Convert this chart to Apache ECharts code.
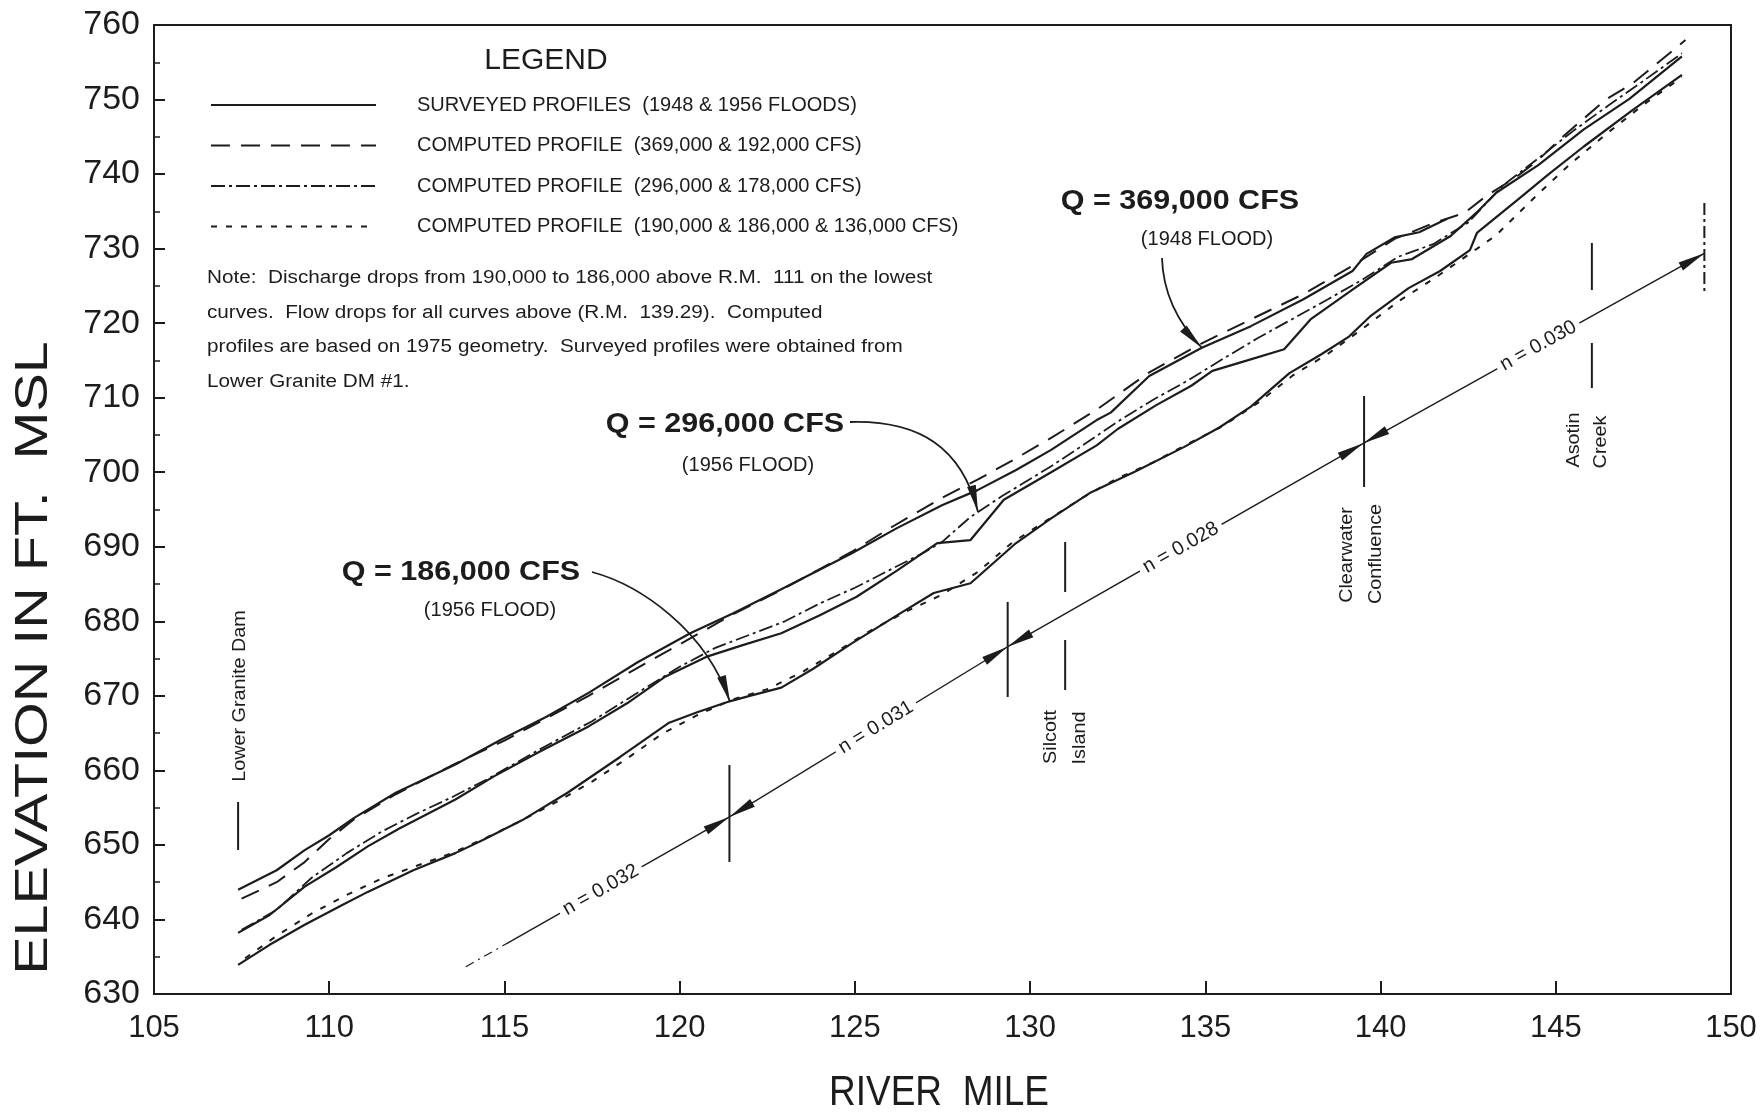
<!DOCTYPE html>
<html><head><meta charset="utf-8">
<script src="https://cdn.jsdelivr.net/npm/echarts@6/dist/echarts.min.js"></script>
<style>html,body{margin:0;padding:0;background:#fff}#c{width:1764px;height:1113px}</style>
</head><body><div id="c"></div>
<script>
// ---------------- DATA (river mile / elevation ft MSL) ----------------
const X_MIN = 105, X_MAX = 150, X_STEP = 5;
const Y_MIN = 630, Y_MAX = 760, Y_STEP = 10;

const SURVEYED_1948_MILE = [107.4,108.5,109.3,110.0,110.7,111.9,113.6,114.9,116.2,117.4,118.8,120.3,121.5,122.9,124.9,126.2,127.5,128.5,129.6,130.6,131.9,132.3,133.4,134.9,136.3,137.8,139.2,139.6,140.4,141.1,141.9];
const SURVEYED_1948_ELEV = [644.0,646.6,649.3,651.3,653.6,657.0,660.8,664.1,667.2,670.4,674.5,678.4,681.0,684.3,689.1,692.5,695.6,697.6,700.3,703.0,707.0,708.0,712.9,716.7,719.6,723.2,727.0,729.3,731.5,732.2,734.0];

const SURVEYED_1956_296K_MILE = [107.4,108.3,109.3,110.2,111.1,112.0,113.6,114.7,116.0,117.4,118.5,119.6,120.8,121.8,122.9,124.0,125.05,126.2,127.35,128.3,129.25,130.6,131.9,132.5,133.6,134.6,135.2,136.2,137.25,138.0,139.2,140.3,140.9,142.0,142.8,143.3,144.5,145.8,147.1,148.6];
const SURVEYED_1956_296K_ELEV = [638.2,640.6,644.4,647.0,649.8,652.2,656.1,659.2,662.5,665.9,669.0,672.6,675.3,676.8,678.4,680.8,683.3,686.8,690.5,690.9,696.3,700.0,703.6,705.8,709.0,711.6,713.6,715.0,716.5,720.5,724.5,728.1,728.6,731.7,735.1,737.5,741.2,746.0,750.1,755.8];

const SURVEYED_1956_186K_MILE = [107.4,108.3,109.3,110.4,111.1,112.4,113.6,114.4,115.5,116.8,118.3,119.7,120.5,121.45,122.0,122.9,123.8,124.9,126.2,127.25,128.3,129.6,130.6,131.7,133.0,134.4,135.4,136.3,137.4,138.3,139.1,139.7,140.8,141.7,142.55,142.75,143.9,144.8,145.8,147.2,148.6];
const SURVEYED_1956_186K_ELEV = [633.9,636.6,639.3,642.0,643.7,646.6,648.9,650.7,653.3,657.0,661.8,666.4,667.8,669.3,670.0,671.1,673.6,677.0,680.8,683.8,685.1,690.5,693.8,697.2,700.1,703.4,706.0,708.8,713.3,715.8,718.2,720.9,724.7,727.0,729.8,732.1,736.5,740.0,743.7,748.6,753.3];

const COMPUTED_369K_MILE = [107.5,108.5,109.3,110.0,110.7,111.9,113.6,115.0,116.2,117.4,119.0,120.3,121.5,122.9,124.9,126.0,127.5,128.5,129.5,130.6,131.9,133.4,134.9,136.3,137.8,139.2,140.4,141.5,142.4,143.0,143.9,144.5,145.2,146.4,147.2,148.5,148.7];
const COMPUTED_369K_ELEV = [642.8,645.0,647.7,650.8,653.4,656.8,660.9,664.0,667.0,670.0,674.3,677.7,680.9,684.2,689.3,692.5,696.6,699.0,701.6,704.6,708.4,713.4,717.3,720.5,723.9,727.7,731.3,733.4,734.8,737.0,739.7,741.9,745.0,749.9,752.2,757.2,758.0];

const COMPUTED_296K_MILE = [107.5,108.5,109.5,110.5,111.5,112.5,113.5,114.5,116.0,117.5,119.0,120.0,121.0,122.0,123.0,124.0,125.0,126.0,127.0,127.5,128.3,129.2,130.6,131.5,132.5,133.5,134.5,135.5,136.5,137.5,138.5,139.5,140.5,141.5,142.5,143.5,144.5,145.5,146.5,147.5,148.6];
const COMPUTED_296K_ELEV = [638.6,641.3,645.6,648.9,651.8,654.2,656.4,658.8,662.8,666.6,671.0,673.9,676.4,678.2,680.0,682.4,684.5,686.9,689.3,690.7,694.0,696.8,700.8,703.6,706.8,709.7,712.3,715.2,718.0,720.6,723.2,725.9,728.9,730.6,733.5,738.5,742.1,745.8,749.2,752.5,756.2];

const COMPUTED_190K_MILE = [107.6,108.5,109.5,110.5,111.5,112.5,113.5,114.5,115.5,116.5,117.5,118.5,119.5,120.5,121.5,122.5,123.5,124.5,125.5,126.5,127.5,128.5,129.5,130.5,131.5,132.5,133.5,134.5,135.5,136.5,137.5,138.5,139.5,140.5,141.5,142.3,143.3,144.4,145.4,146.5,147.5,148.6];
const COMPUTED_190K_ELEV = [634.8,637.8,640.8,643.3,645.5,647.2,648.9,651.0,653.3,655.8,658.5,661.6,664.9,667.4,669.5,670.9,673.2,676.0,678.9,681.4,683.6,686.6,690.6,693.6,696.6,699.2,701.3,703.8,706.2,709.3,713.0,715.9,719.3,722.9,725.9,728.5,731.8,736.9,741.3,745.6,749.3,753.0];

// roughness reach line (river mile, elevation) and its labels
const REACH_MILE = [113.9, 121.42, 129.36, 139.51, 149.24];
const REACH_ELEV = [633.66, 653.75, 676.59, 703.88, 729.37];
const REACH_LABELS = ['n = 0.032', 'n = 0.031', 'n = 0.028', 'n = 0.030'];
const REACH_LABEL_MILE = [117.75, 125.6, 134.3, 144.5];

const LEGEND_NAMES = [
  'SURVEYED PROFILES  (1948 & 1956 FLOODS)',
  'COMPUTED PROFILE  (369,000 & 192,000 CFS)',
  'COMPUTED PROFILE  (296,000 & 178,000 CFS)',
  'COMPUTED PROFILE  (190,000 & 186,000 & 136,000 CFS)'
];
const NOTE_LINES = [
  'Note:  Discharge drops from 190,000 to 186,000 above R.M.  111 on the lowest',
  'curves.  Flow drops for all curves above (R.M.  139.29).  Computed',
  'profiles are based on 1975 geometry.  Surveyed profiles were obtained from',
  'Lower Granite DM #1.'
];

// ---------------- CHART ----------------
const INK = '#1c1c1c';
const FONT = '"Liberation Sans", Arial, Helvetica, sans-serif';
const chart = echarts.init(document.getElementById('c'), null, {renderer: 'canvas'});
const pairs = (ms, es) => ms.map((m, i) => [m, es[i]]);
const mk = (name, ms, es, type, width) => ({
  name, type: 'line', data: pairs(ms, es), symbol: 'none', showSymbol: false, smooth: false,
  silent: true, z: 3, emphasis: {disabled: true},
  lineStyle: {color: INK, width, type}, itemStyle: {color: INK}
});
const DASHED = [19, 11], DASHDOT = [14, 4, 3, 4], DOTTED = [6, 9];

chart.setOption({
  animation: false,
  backgroundColor: '#ffffff',
  grid: {left: 154, right: 33, top: 25, bottom: 119, show: true, borderColor: INK, borderWidth: 2},
  xAxis: {
    type: 'value', min: X_MIN, max: X_MAX, interval: X_STEP,
    axisLine: {show: true, lineStyle: {color: INK, width: 2}},
    axisTick: {show: true, inside: true, length: 13, lineStyle: {color: INK, width: 2}},
    axisLabel: {fontSize: 31, color: INK, fontFamily: FONT, margin: 19, showMinLabel: true, showMaxLabel: true},
    splitLine: {show: false}
  },
  yAxis: {
    type: 'value', min: Y_MIN, max: Y_MAX, interval: Y_STEP,
    axisLine: {show: true, lineStyle: {color: INK, width: 2}},
    axisTick: {show: true, inside: true, length: 11, lineStyle: {color: INK, width: 2}},
    minorTick: {show: true, splitNumber: 2, length: 6, lineStyle: {color: INK, width: 1.5}},
    axisLabel: {fontSize: 34, color: INK, fontFamily: FONT, margin: 14},
    splitLine: {show: false}, minorSplitLine: {show: false}
  },
  legend: {
    orient: 'vertical', left: 205, top: 90, itemWidth: 165, itemHeight: 20, itemGap: 20.5,
    selectedMode: false, data: LEGEND_NAMES,
    itemStyle: {color: 'rgba(0,0,0,0)', borderWidth: 0, opacity: 0},
    textStyle: {fontSize: 20, color: INK, fontFamily: FONT, lineHeight: 20, padding: [0, 0, 0, 36]}
  },
  series: [
    mk(LEGEND_NAMES[0], SURVEYED_1948_MILE, SURVEYED_1948_ELEV, 'solid', 2.2),
    mk(LEGEND_NAMES[0], SURVEYED_1956_296K_MILE, SURVEYED_1956_296K_ELEV, 'solid', 2.2),
    mk(LEGEND_NAMES[0], SURVEYED_1956_186K_MILE, SURVEYED_1956_186K_ELEV, 'solid', 2.2),
    mk(LEGEND_NAMES[1], COMPUTED_369K_MILE, COMPUTED_369K_ELEV, DASHED, 2),
    mk(LEGEND_NAMES[2], COMPUTED_296K_MILE, COMPUTED_296K_ELEV, DASHDOT, 1.8),
    mk(LEGEND_NAMES[3], COMPUTED_190K_MILE, COMPUTED_190K_ELEV, DOTTED, 2)
  ]
});

// ---------------- ANNOTATIONS ----------------
const px = (m, e) => chart.convertToPixel({gridIndex: 0}, [m, e]);
const G = [];
function text(x, y, s, size, o) {
  o = o || {};
  G.push({
    type: 'text', x, y, z: 60, rotation: o.rot || 0, scaleX: o.sx || 1, scaleY: o.sy || 1,
    style: {
      text: s, fontSize: size, fontFamily: FONT, fontWeight: o.bold ? 'bold' : 'normal', fill: INK,
      textAlign: o.align || 'center', align: o.align || 'center',
      textVerticalAlign: 'middle', verticalAlign: 'middle',
      backgroundColor: o.bg, padding: o.bg ? [2, 5] : 0
    }
  });
}
function head(tip, from, len, hw) {
  const dx = tip[0] - from[0], dy = tip[1] - from[1], L = Math.hypot(dx, dy);
  const ux = dx / L, uy = dy / L, bx = tip[0] - ux * len, by = tip[1] - uy * len;
  G.push({type: 'polygon', z: 61, shape: {points: [[tip[0], tip[1]], [bx - uy * hw, by + ux * hw], [bx + uy * hw, by - ux * hw]]}, style: {fill: INK}});
}
function seg(a, b, w, dash) {
  G.push({type: 'line', z: 55, shape: {x1: a[0], y1: a[1], x2: b[0], y2: b[1]}, style: {stroke: INK, lineWidth: w, lineDash: dash || null}});
}
function curveArrow(p0, c1, c2, p1) {
  G.push({type: 'bezierCurve', z: 58, shape: {x1: p0[0], y1: p0[1], cpx1: c1[0], cpy1: c1[1], cpx2: c2[0], cpy2: c2[1], x2: p1[0], y2: p1[1]}, style: {stroke: INK, lineWidth: 1.8, fill: null}});
  head(p1, c2, 27, 4.5);
}

// legend title and note
text(546, 61, 'LEGEND', 30);
NOTE_LINES.forEach((s, i) => text(207, [278, 313, 347, 382][i], s, 18, {align: 'left', sx: 1.15}));

// flood labels
text(1180, 202, 'Q = 369,000 CFS', 27, {bold: true, sx: 1.13});
text(1207, 239, '(1948 FLOOD)', 20);
text(725, 425, 'Q = 296,000 CFS', 27, {bold: true, sx: 1.13});
text(748, 465, '(1956 FLOOD)', 20);
text(461, 573, 'Q = 186,000 CFS', 27, {bold: true, sx: 1.13});
text(490, 610, '(1956 FLOOD)', 20);
curveArrow([1162, 258], [1163, 295], [1180, 325], [1202, 348]);
curveArrow([850, 422], [920, 420], [962, 448], [978, 512]);
curveArrow([592, 572], [640, 585], [706, 630], [730, 702]);

// roughness reach line
const R = REACH_MILE.map((m, i) => px(m, REACH_ELEV[i]));
const lerp = (a, b, t) => [a[0] + (b[0] - a[0]) * t, a[1] + (b[1] - a[1]) * t];
const dashEnd = lerp(R[0], R[1], (115.05 - REACH_MILE[0]) / (REACH_MILE[1] - REACH_MILE[0]));
seg(R[0], dashEnd, 1.2, [9, 5, 2, 5]);
seg(dashEnd, R[1], 1.4);
for (let i = 1; i < R.length - 1; i++) seg(R[i], R[i + 1], 1.4);
for (let i = 1; i < R.length; i++) {
  head(R[i], R[i - 1], 27, 4.5);
  if (i < R.length - 1) head(R[i], R[i + 1], 27, 4.5);
}
REACH_LABELS.forEach((s, i) => {
  const a = R[i], b = R[i + 1];
  const t = (REACH_LABEL_MILE[i] - REACH_MILE[i]) / (REACH_MILE[i + 1] - REACH_MILE[i]);
  const p = lerp(a, b, t);
  text(p[0], p[1], s, 20, {rot: -Math.atan2(b[1] - a[1], b[0] - a[0]), bg: '#ffffff'});
});

// vertical reach / landmark ticks [mile, top elev, bottom elev]
const TICKS = [
  [107.40, 655.76, 649.32], [121.42, 660.72, 647.71], [129.36, 682.59, 669.84],
  [131.0, 690.64, 683.93], [131.0, 677.49, 670.78], [139.53, 710.23, 698.02],
  [146.03, 730.75, 724.45], [146.03, 717.34, 711.30]
];
TICKS.forEach(t => seg(px(t[0], t[1]), px(t[0], t[2]), 2));
seg(px(149.24, 736.12), px(149.24, 724.04), 2, [12, 4, 3, 4]);

// landmark names (rotated)
const V = Math.PI / 2;
text(240, 696, 'Lower Granite Dam', 18, {rot: V, sx: 1.1});
text(1051, 737, 'Silcott', 18, {rot: V, sx: 1.1});
text(1080, 738, 'Island', 18, {rot: V, sx: 1.1});
text(1347, 555, 'Clearwater', 18, {rot: V, sx: 1.1});
text(1376, 554, 'Confluence', 18, {rot: V, sx: 1.1});
text(1574, 440, 'Asotin', 18, {rot: V, sx: 1.1});
text(1601, 442, 'Creek', 18, {rot: V, sx: 1.1});

// axis titles
text(939, 1093, 'RIVER  MILE', 37, {sy: 1.13});
text(34, 658, 'ELEVATION IN FT.  MSL', 46, {rot: V, sx: 1.25});

chart.setOption({graphic: {elements: G}});
</script>
</body></html>
